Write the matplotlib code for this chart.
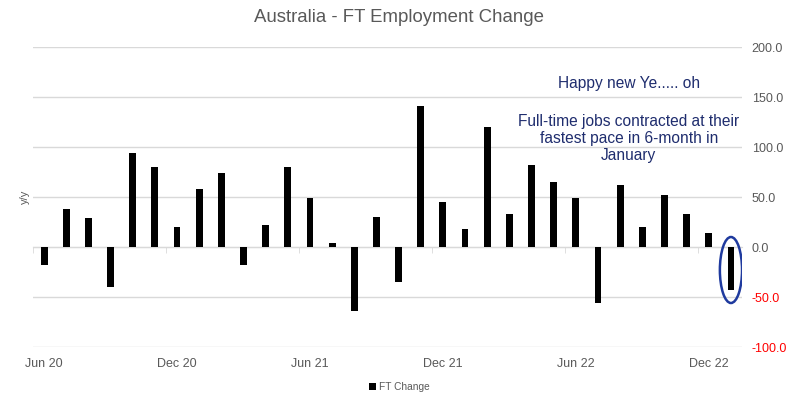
import numpy as np
from matplotlib import pyplot as plt
import matplotlib.patches as mpatches

plt.rcParams['font.family'] = ['Liberation Sans', 'DejaVu Sans']

# monthly full-time employment change, Jun 20 .. Jan 23 (thousands)
months = ['Jun 20', 'Jul 20', 'Aug 20', 'Sep 20', 'Oct 20', 'Nov 20', 'Dec 20',
          'Jan 21', 'Feb 21', 'Mar 21', 'Apr 21', 'May 21', 'Jun 21', 'Jul 21',
          'Aug 21', 'Sep 21', 'Oct 21', 'Nov 21', 'Dec 21', 'Jan 22', 'Feb 22',
          'Mar 22', 'Apr 22', 'May 22', 'Jun 22', 'Jul 22', 'Aug 22', 'Sep 22',
          'Oct 22', 'Nov 22', 'Dec 22', 'Jan 23']
ft_change = [-17.5, 38, 29, -39.5, 94, 80, 20,
             58, 74, -17.5, 22, 80, 49, 4,
             -63.5, 30, -34.5, 141, 45, 18, 120,
             33, 82, 65, 49, -55.5, 62, 20,
             52, 33, 14.3, -43]
yticks = [-100, -50, 0, 50, 100, 150, 200]

GRAY = '#595959'
GRID = '#D9D9D9'
NAVY = '#1F2D6E'

x = np.arange(len(months))

fig = plt.figure(figsize=(7.99, 4.07), dpi=100)
ax = fig.add_axes([0.0413, 0.1474, 0.8874, 0.7371])

ax.bar(x, ft_change, width=0.31, color='black', label='FT Change', zorder=3)

ax.set_xlim(-0.5, len(months) - 0.5)
ax.set_ylim(min(yticks), max(yticks))

# y axis on the right, negatives in red
ax.yaxis.tick_right()
ax.set_yticks(yticks)
ax.set_yticklabels(['{:.1f}'.format(v) for v in yticks])
for lbl, v in zip(ax.get_yticklabels(), yticks):
    lbl.set_color('red' if v < 0 else GRAY)
ax.tick_params(axis='y', length=0, pad=7, labelsize=9)
ax.grid(axis='y', color=GRID, linewidth=1, zorder=0)
ax.yaxis.set_label_position('left')
ax.set_ylabel('y/y', color=GRAY, fontsize=8, labelpad=2)

for side in ['top', 'left', 'right']:
    ax.spines[side].set_visible(False)

# category axis line sits at zero with tick marks between categories
ax.spines['bottom'].set_position(('data', 0))
ax.spines['bottom'].set_color(GRID)
ax.set_xticks([])
ax.set_xticks(np.arange(-0.5, len(months), 6), minor=True)
ax.tick_params(axis='x', which='minor', length=4, color=GRID, labelbottom=False)

# labels at the bottom of the plot area
sec = ax.secondary_xaxis('bottom')
sec.set_xticks(x[::6])
sec.set_xticklabels(months[::6])
sec.tick_params(length=0, pad=8, labelsize=9, labelcolor=GRAY)
sec.spines['bottom'].set_visible(False)

# highlight the latest print
last = len(months) - 1
ax.add_patch(mpatches.Ellipse((last, ft_change[last] / 2 - 1.5), 1.0, abs(ft_change[last]) + 23,
                              fill=False, edgecolor='#1F3A9E', linewidth=1.8, zorder=4))

fig.text(0.5, 0.956, 'Australia - FT Employment Change', ha='center', va='center',
         fontsize=13.4, color=GRAY)
fig.text(0.787, 0.796, 'Happy new Ye..... oh', ha='center', va='center',
         fontsize=11.2, color=NAVY)
fig.text(0.787, 0.66, 'Full-time jobs contracted at their\nfastest pace in 6-month in\nJanuary',
         ha='center', va='center', fontsize=11.2, color=NAVY, linespacing=1.17)

fig.legend(loc='center', bbox_to_anchor=(0.5, 0.049), frameon=False, fontsize=7.3,
           handlelength=0.7, handleheight=0.7, handletextpad=0.3, labelcolor=GRAY)

fig.savefig('out.png', dpi=100)
